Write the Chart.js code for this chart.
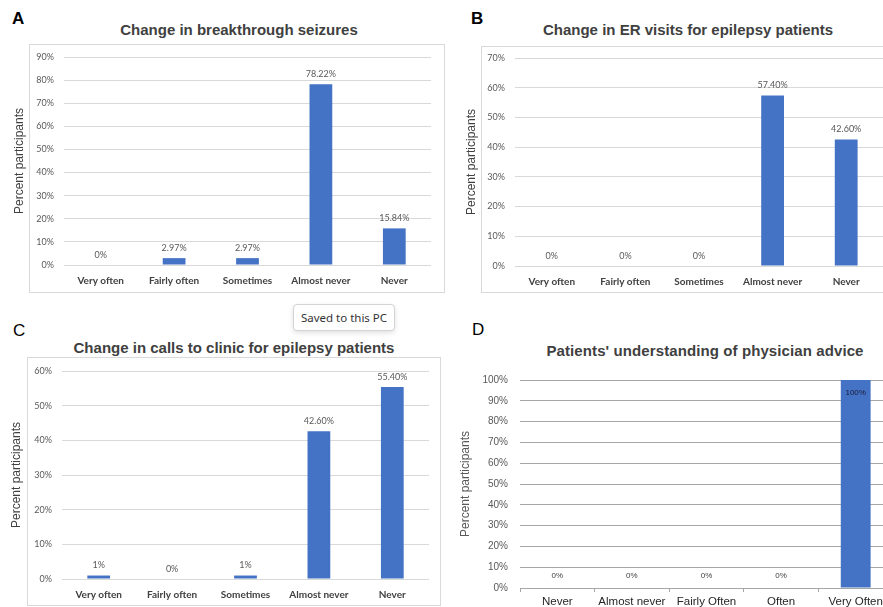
<!DOCTYPE html>
<html>
<head>
<meta charset="utf-8">
<script src="https://cdn.jsdelivr.net/npm/chart.js@4.4.1/dist/chart.umd.min.js"></script>
<style>
  body { margin: 0; width: 883px; height: 607px; overflow: hidden; background: #fff; position: relative; font-family: "Liberation Sans", Arial, sans-serif; }
  .box { position: absolute; border: 1px solid #d9d9d9; box-sizing: border-box; }
  .letter { position: absolute; font-size: 17px; line-height: 20px; color: #000; }
  .title { position: absolute; font-size: 15px; line-height: 18px; font-weight: bold; color: #404040; white-space: nowrap; transform: translateX(-50%); }
  canvas { position: absolute; }
  .toast { position: absolute; left: 293px; top: 304px; width: 102px; height: 27px; box-sizing: border-box; border: 1px solid #d4d4d4; border-radius: 4px; background: #fff; box-shadow: 0 2px 5px rgba(0,0,0,0.12); font-family: "Noto Sans", sans-serif; font-size: 11.5px; line-height: 25px; text-align: center; color: #333; }
</style>
</head>
<body>
<div class="box" style="left:29px;top:44px;width:416px;height:249px"></div>
<div class="box" style="left:481px;top:46px;width:420px;height:247px"></div>
<div class="box" style="left:27px;top:357px;width:414px;height:249px"></div>

<div class="letter" style="left:12px;top:9px;font-weight:bold">A</div>
<div class="letter" style="left:471px;top:9px;font-weight:bold">B</div>
<div class="letter" style="left:13px;top:321px">C</div>
<div class="letter" style="left:472px;top:320px">D</div>

<div class="title" style="left:239px;top:21px">Change in breakthrough seizures</div>
<div class="title" style="left:688px;top:21px">Change in ER visits for epilepsy patients</div>
<div class="title" style="left:234px;top:339px">Change in calls to clinic for epilepsy patients</div>
<div class="title" style="left:705px;top:342px;letter-spacing:0.1px">Patients' understanding of physician advice</div>

<canvas id="chartA" width="450" height="255" style="left:0;top:40px"></canvas>
<canvas id="chartB" width="460" height="255" style="left:440px;top:40px"></canvas>
<canvas id="chartC" width="450" height="252" style="left:0;top:355px"></canvas>
<canvas id="chartD" width="460" height="247" style="left:440px;top:360px"></canvas>

<div class="toast">Saved to this PC</div>

<script>
// categories
const frequencyCategories = ["Very often", "Fairly often", "Sometimes", "Almost never", "Never"];
const adviceCategories = ["Never", "Almost never", "Fairly Often", "Often", "Very Often"];

// values (percent participants)
const seizureValues = [0, 2.97, 2.97, 78.22, 15.84];
const erValues = [0, 0, 0, 57.40, 42.60];
const callValues = [1, 0, 1, 42.60, 55.40];
const adviceValues = [0, 0, 0, 0, 100];

// value labels as printed on the bars
const seizureLabels = ["0%", "2.97%", "2.97%", "78.22%", "15.84%"];
const erLabels = ["0%", "0%", "0%", "57.40%", "42.60%"];
const callLabels = ["1%", "0%", "1%", "42.60%", "55.40%"];
const adviceLabels = ["0%", "0%", "0%", "0%", "100%"];

// y axis top tick of each panel
const seizureMax = 90;
const erMax = 70;
const callMax = 60;
const adviceMax = 100;

const BLUE = "#4472c4";

const barLabels = {
    id: "barLabels",
    afterDatasetsDraw(chart, args, opts) {
        const { ctx, chartArea } = chart;
        const meta = chart.getDatasetMeta(0);
        ctx.save();
        ctx.font = opts.font;
        ctx.textAlign = "center";
        ctx.textBaseline = "middle";
        meta.data.forEach((bar, i) => {
            let y = bar.y - opts.gap;
            ctx.fillStyle = opts.color;
            if (y - 4 < chartArea.top) {
                y = bar.y + opts.inside;
                ctx.fillStyle = opts.insideColor || opts.color;
            }
            ctx.fillText(opts.labels[i], bar.x, y);
        });
        ctx.restore();
    }
};

// panels A-C share the Excel look
const makeExcelChart = (id, categories, values, labels, max, lay) => {
    new Chart(document.getElementById(id), {
        type: "bar",
        data: {
            labels: categories,
            datasets: [{
                data: values,
                backgroundColor: BLUE,
                barPercentage: 0.31,
                categoryPercentage: 1
            }]
        },
        plugins: [barLabels],
        options: {
            responsive: false,
            animation: false,
            events: [],
            layout: { padding: lay.padding },
            plugins: {
                legend: { display: false },
                tooltip: { enabled: false },
                barLabels: { labels: labels, font: "9px Lato", color: "#595959", gap: 10, inside: 10 }
            },
            scales: {
                x: {
                    grid: { display: false },
                    border: { display: false },
                    ticks: { color: "#404040", font: { family: "Lato", size: 10, weight: "bold" }, padding: 2, maxRotation: 0 },
                    afterFit: s => { s.height = lay.xHeight; }
                },
                y: {
                    min: 0,
                    max: max,
                    ticks: { stepSize: 10, color: "#595959", font: { family: "Lato", size: 9 }, padding: 10, callback: v => v + "%" },
                    grid: { color: "#d9d9d9", drawTicks: false },
                    border: { display: false },
                    title: { display: true, text: "Percent participants", color: "#404040", font: { family: "Liberation Sans", size: 12 }, padding: 0 },
                    afterFit: s => { s.width = lay.yWidth; }
                }
            }
        }
    });
};

makeExcelChart("chartA", frequencyCategories, seizureValues, seizureLabels, seizureMax,
    { padding: { left: 12, right: 19, top: 17, bottom: 3 }, xHeight: 27, yWidth: 52 });
makeExcelChart("chartB", frequencyCategories, erValues, erLabels, erMax,
    { padding: { left: 24, right: 17, top: 18, bottom: 2 }, xHeight: 27, yWidth: 51 });
makeExcelChart("chartC", frequencyCategories, callValues, callLabels, callMax,
    { padding: { left: 9, right: 21, top: 16, bottom: 2 }, xHeight: 26, yWidth: 53 });

// panel D uses the older, plain style
new Chart(document.getElementById("chartD"), {
    type: "bar",
    data: {
        labels: adviceCategories,
        datasets: [{
            data: adviceValues,
            backgroundColor: BLUE,
            barPercentage: 0.4,
            categoryPercentage: 1
        }]
    },
    plugins: [barLabels],
    options: {
        responsive: false,
        animation: false,
        events: [],
        layout: { padding: { left: 18, right: 7, top: 20, bottom: 0 } },
        plugins: {
            legend: { display: false },
            tooltip: { enabled: false },
            barLabels: { labels: adviceLabels, font: "8px 'Liberation Sans'", color: "#404040", insideColor: "#1a1a3a", gap: 12, inside: 13 }
        },
        scales: {
            x: {
                grid: { offset: true, drawOnChartArea: false, drawTicks: true, tickLength: 4, color: "#a6a6a6" },
                border: { display: true, color: "#a6a6a6" },
                ticks: { color: "#262626", font: { family: "Liberation Sans", size: 11.5 }, padding: 3, maxRotation: 0 },
                afterFit: s => { s.height = 19; }
            },
            y: {
                min: 0,
                max: adviceMax,
                ticks: { stepSize: 10, color: "#595959", font: { family: "Liberation Sans", size: 10 }, padding: 12, callback: v => v + "%" },
                grid: { color: "#a6a6a6", drawTicks: false },
                border: { display: false },
                title: { display: true, text: "Percent participants", color: "#595959", font: { family: "Liberation Sans", size: 12 }, padding: 0 },
                afterFit: s => { s.width = 62; }
            }
        }
    }
});
</script>
</body>
</html>
